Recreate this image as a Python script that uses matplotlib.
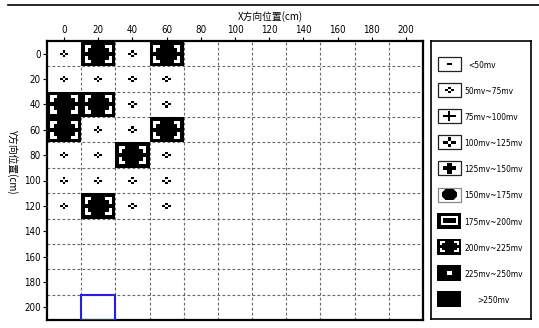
import matplotlib
matplotlib.use("Agg")
import matplotlib.pyplot as plt
from matplotlib.patches import Rectangle, Polygon
from matplotlib.lines import Line2D
from matplotlib import font_manager
from matplotlib.font_manager import FontProperties

# ---------------- data ----------------
x_positions = [0, 20, 40, 60]
y_positions = [0, 20, 40, 60, 80, 100, 120]
# level index per cell (row = y position, col = x position)
# 1 -> 50mv~75mv, 7 -> 200mv~225mv
levels = [
    [1, 7, 1, 7],
    [1, 1, 1, 1],
    [7, 7, 1, 1],
    [7, 1, 1, 7],
    [1, 1, 7, 1],
    [1, 1, 1, 1],
    [1, 7, 1, 1],
]
selected_cell = (20, 200)
x_ticks = list(range(0, 201, 20))
y_ticks = list(range(0, 201, 20))
legend_labels = ["<50mv", "50mv~75mv", "75mv~100mv", "100mv~125mv",
                 "125mv~150mv", "150mv~175mv", "175mv~200mv",
                 "200mv~225mv", "225mv~250mv", ">250mv"]
x_label = "X方向位置(cm)"
y_label = "Y方向位置(cm)"

# ---------------- fonts ----------------
cjk = "Noto Sans CJK SC"
narrow_path = None
for f in font_manager.fontManager.ttflist:
    nm = f.name.lower()
    st = str(f.stretch).lower()
    if f.weight in (400, "normal", "regular") and f.style == "normal" and (
            "narrow" in nm or "condensed" in nm or st in ("condensed", "semi-condensed", "500", "600")):
        if "sans" in nm or "roboto" in nm:
            narrow_path = f.fname
            break


def small_font(size):
    if narrow_path:
        return FontProperties(fname=narrow_path, size=size)
    return FontProperties(family=["Liberation Sans", "DejaVu Sans"], size=size)


W_FIG, H_FIG = 539, 328
fig = plt.figure(figsize=(W_FIG / 100, H_FIG / 100), dpi=100)

# main axes (pixel box 47..423 x 41..320)
ax_l, ax_r, ax_t, ax_b = 47, 423, 41, 320
ax = fig.add_axes([ax_l / W_FIG, 1 - ax_b / H_FIG, (ax_r - ax_l) / W_FIG, (ax_b - ax_t) / H_FIG])
ax.set_xlim(-10, 210)
ax.set_ylim(210, -10)
ax.xaxis.tick_top()
ax.set_xticks(x_ticks)
ax.set_yticks(y_ticks)
ax.tick_params(direction="out", length=3, width=0.8, labelsize=6.8, pad=1.5)
for lab in ax.get_xticklabels() + ax.get_yticklabels():
    lab.set_fontproperties(small_font(7))
for sp in ax.spines.values():
    sp.set_linewidth(1.6)

# grid at cell boundaries
for b in range(10, 200, 20):
    ax.axvline(b, color="#666666", lw=0.8, ls=(0, (2.5, 2)), zorder=1)
    ax.axhline(b, color="#666666", lw=0.8, ls=(0, (2.5, 2)), zorder=1)

# px -> data scaling
kx = 220 / (ax_r - ax_l)
ky = 220 / (ax_b - ax_t)


def rect(a, cx, cy, sx, sy, x0, y0, x1, y1, color, z):
    a.add_patch(Rectangle((cx + x0 * sx, cy + y0 * sy), (x1 - x0) * sx, (y1 - y0) * sy,
                          facecolor=color, edgecolor="none", zorder=z))


def hollow_cross(a, cx, cy, sx, sy, s, z):
    # four blocks around a white centre
    rect(a, cx, cy, sx, sy, -1.2 * s, -3.3 * s, 1.2 * s, -1.0 * s, "black", z)
    rect(a, cx, cy, sx, sy, -1.2 * s, 1.0 * s, 1.2 * s, 3.3 * s, "black", z)
    rect(a, cx, cy, sx, sy, -4.2 * s, -1.0 * s, -1.2 * s, 1.0 * s, "black", z)
    rect(a, cx, cy, sx, sy, 1.2 * s, -1.0 * s, 4.2 * s, 1.0 * s, "black", z)


def brackets(a, cx, cy, sx, sy, W, H, t, z):
    ix, iy = 0.10 * W, 0.14 * H
    ah, av = 0.195 * W, 0.28 * H
    for mx in (-1, 1):
        for my in (-1, 1):
            px = mx * (W / 2 - ix)
            py = my * (H / 2 - iy)
            hx0, hx1 = sorted([px, px - mx * ah])
            hy0, hy1 = sorted([py, py - my * t])
            rect(a, cx, cy, sx, sy, hx0, hy0, hx1, hy1, "white", z)
            vx0, vx1 = sorted([px, px - mx * t])
            vy0, vy1 = sorted([py, py - my * av])
            rect(a, cx, cy, sx, sy, vx0, vy0, vx1, vy1, "white", z)


def draw_symbol(a, kind, cx, cy, sx, sy, W, H, z, t=3.2):
    if kind == 0:
        rect(a, cx, cy, sx, sy, -2.5, -0.8, 2.5, 0.8, "black", z)
    elif kind == 1:
        hollow_cross(a, cx, cy, sx, sy, 1.0, z)
    elif kind == 2:
        rect(a, cx, cy, sx, sy, -6.3, -1.0, 6.3, 1.0, "black", z)
        rect(a, cx, cy, sx, sy, -1.0, -5.0, 1.0, 5.0, "black", z)
    elif kind == 3:
        hollow_cross(a, cx, cy, sx, sy, 1.5, z)
    elif kind == 4:
        rect(a, cx, cy, sx, sy, -6.5, -2.0, 6.5, 2.0, "black", z)
        rect(a, cx, cy, sx, sy, -2.2, -5.5, 2.2, 5.5, "black", z)
    elif kind == 5:
        pts = [(-7.5, -2), (-4, -5.5), (4, -5.5), (7.5, -2), (7.5, 2), (4, 5.5), (-4, 5.5), (-7.5, 2)]
        a.add_patch(Polygon([(cx + p * sx, cy + q * sy) for p, q in pts],
                            facecolor="black", edgecolor="none", zorder=z))
    elif kind == 6:
        rect(a, cx, cy, sx, sy, -W / 2, -H / 2, W / 2, H / 2, "black", z)
        rect(a, cx, cy, sx, sy, -W / 2 + 3.5, -H / 2 + 3.5, W / 2 - 3.5, H / 2 - 3.5, "white", z)
        rect(a, cx, cy, sx, sy, -W / 2 + 5.5, -H / 2 + 5.5, W / 2 - 5.5, H / 2 - 5.5, "black", z)
    elif kind == 7:
        rect(a, cx, cy, sx, sy, -W / 2, -H / 2, W / 2, H / 2, "black", z)
        brackets(a, cx, cy, sx, sy, W, H, t, z)
    elif kind == 8:
        rect(a, cx, cy, sx, sy, -W / 2, -H / 2, W / 2, H / 2, "black", z)
        rect(a, cx, cy, sx, sy, -2.5, -2.0, 2.5, 2.0, "white", z)
    elif kind == 9:
        rect(a, cx, cy, sx, sy, -W / 2, -H / 2, W / 2, H / 2, "black", z)


cell_w = 20 / kx
cell_h = 20 / ky
for r, yv in enumerate(y_positions):
    for c, xv in enumerate(x_positions):
        draw_symbol(ax, levels[r][c], xv, yv, kx, ky, cell_w, cell_h, 3)

sx_, sy_ = selected_cell
ax.add_patch(Rectangle((sx_ - 10, sy_ - 10), 20, 20, fill=False,
                       edgecolor="#2222dd", lw=1.5, zorder=4))

# axis labels
fig.text(270 / W_FIG, 1 - 17 / H_FIG, x_label, ha="center", va="center",
         fontsize=7, family=[cjk, "DejaVu Sans"])
fig.text(12 / W_FIG, 1 - 161 / H_FIG, y_label, ha="center", va="center",
         rotation=-90, fontsize=7, family=[cjk, "DejaVu Sans"])

# top rule
fig.add_artist(Line2D([8 / W_FIG, 1.0], [1 - 5 / H_FIG] * 2, color="black", lw=1.2,
                      transform=fig.transFigure))

# legend panel (pixel coordinates)
lg_l, lg_r, lg_t, lg_b = 431, 531, 41, 319
lax = fig.add_axes([lg_l / W_FIG, 1 - lg_b / H_FIG, (lg_r - lg_l) / W_FIG, (lg_b - lg_t) / H_FIG])
lax.set_xlim(lg_l, lg_r)
lax.set_ylim(lg_b, lg_t)
lax.set_xticks([])
lax.set_yticks([])
for sp in lax.spines.values():
    sp.set_linewidth(1.2)

box_cx = 449.5
for i, lab in enumerate(legend_labels):
    yc = 64 + 26.1 * i
    if i <= 5:
        bw, bh = 23, 14
        lax.add_patch(Rectangle((box_cx - bw / 2, yc - bh / 2), bw, bh, facecolor="white",
                                edgecolor="#888888" if i == 5 else "#222222", lw=0.9, zorder=2))
    else:
        bw, bh = 24, 16
    draw_symbol(lax, i, box_cx, yc, 1, 1, bw, bh, 3, t=2.2)
    tx = 468 if i == 0 else (477 if i == len(legend_labels) - 1 else 464)
    lax.text(tx, yc + 1.5, lab, ha="left", va="center", fontproperties=small_font(6))

fig.savefig("out.png", dpi=100)
